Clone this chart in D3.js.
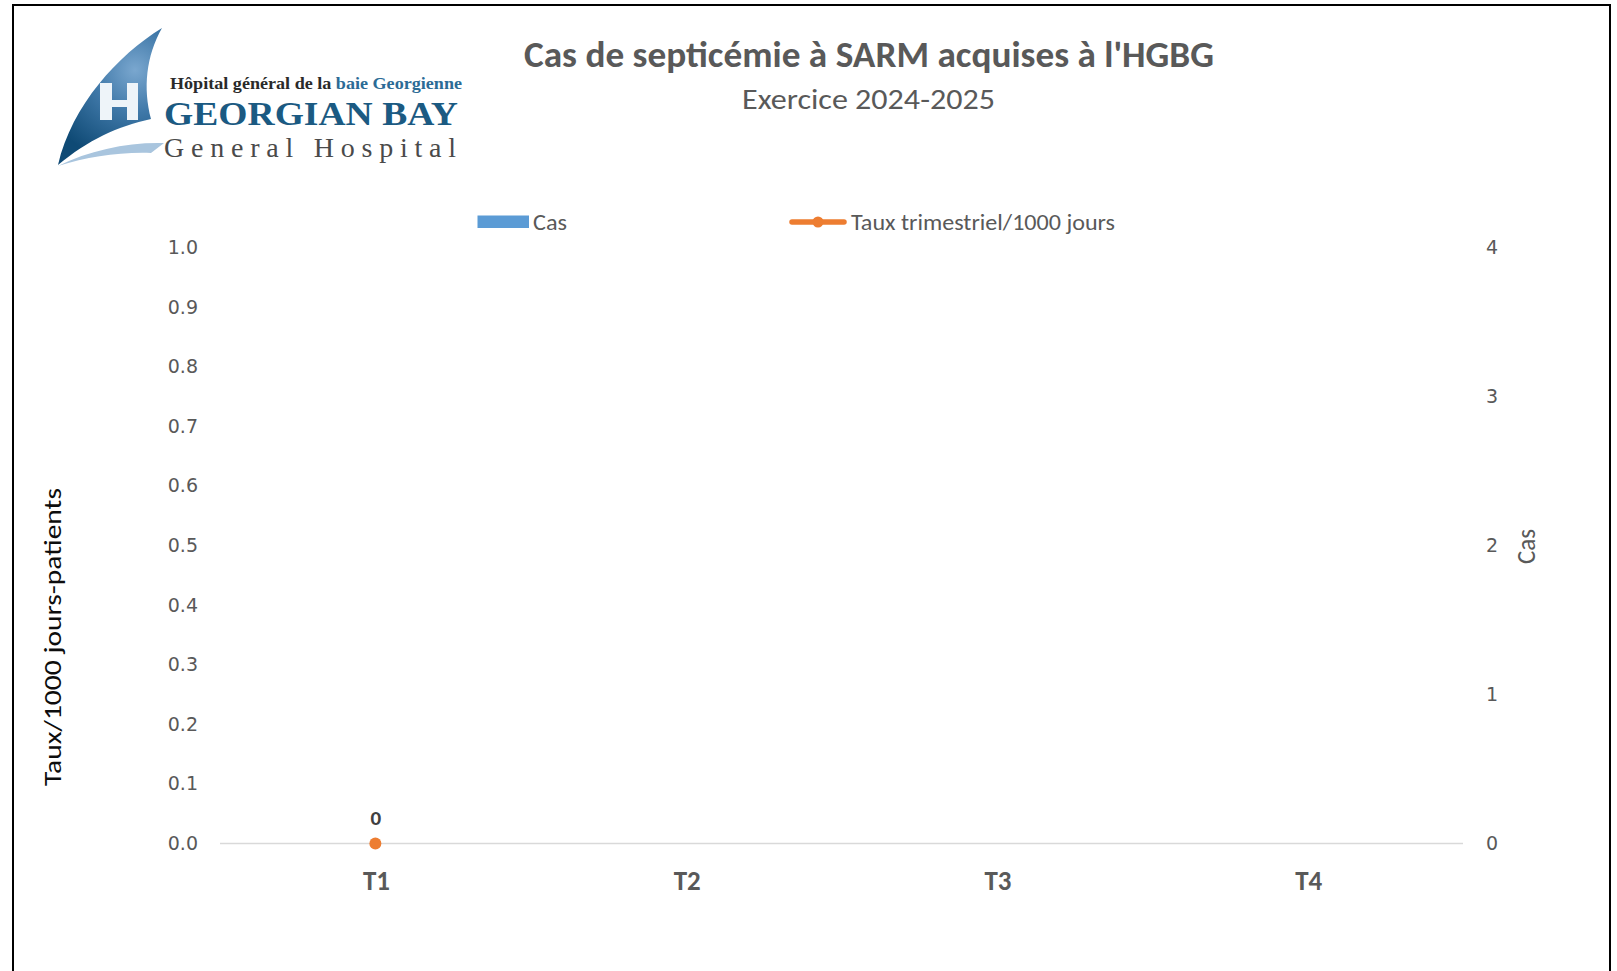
<!DOCTYPE html>
<html>
<head>
<meta charset="utf-8">
<script src="https://cdn.jsdelivr.net/npm/d3@7"></script>
<style>
  html, body { margin: 0; padding: 0; background: #fff; }
  svg { display: block; }
</style>
</head>
<body>
<svg id="chart" width="1617" height="971"></svg>
<script>
// ---- Data ----
const categories = ["T1", "T2", "T3", "T4"];
const casValues = [0, null, null, null];            // bars (right axis)
const tauxValues = [0, null, null, null];           // line (left axis)
const leftTicks = [0, 0.1, 0.2, 0.3, 0.4, 0.5, 0.6, 0.7, 0.8, 0.9, 1.0];
const rightTicks = [0, 1, 2, 3, 4];
const titleText = "Cas de septicémie à SARM acquises à l'HGBG";
const subtitleText = "Exercice 2024-2025";
const legendNames = ["Cas", "Taux trimestriel/1000 jours"];
const leftAxisTitle = "Taux/1000 jours-patients";
const rightAxisTitle = "Cas";

// ---- Setup ----
const svg = d3.select("#chart");
const W = 1617, H = 971;
const plot = { left: 220, right: 1463, top: 247.5, bottom: 843.5 };
const GRAY = "#595959";
const BODY = "'Carlito', 'Open Sans', sans-serif";
const TICKF = "'DejaVu Sans', sans-serif";
const ORANGE = "#ed7d31", BLUE = "#5b9bd5";

svg.append("rect").attr("width", W).attr("height", H).attr("fill", "#fff");
// outer frame
svg.append("rect").attr("x", 13).attr("y", 5).attr("width", 1597).attr("height", 1000)
  .attr("fill", "none").attr("stroke", "#000").attr("stroke-width", 2);

// ---- Logo ----
const defs = svg.append("defs");
const rg = defs.append("radialGradient").attr("id", "sailGrad")
  .attr("gradientUnits", "userSpaceOnUse").attr("cx", 135).attr("cy", 70).attr("r", 95);
rg.append("stop").attr("offset", "0").attr("stop-color", "#7aa7cf");
rg.append("stop").attr("offset", "0.45").attr("stop-color", "#3f78a8");
rg.append("stop").attr("offset", "1").attr("stop-color", "#0f4a75");
const logo = svg.append("g");
logo.append("path")
  .attr("d", "M162,28 C118,55 72,105 58,165 C88,140 118,126 151,119 C143,88 146,56 162,28 Z")
  .attr("fill", "url(#sailGrad)");
// H
logo.append("path")
  .attr("d", "M100,83 L112,83 L112,100 L127,100 L127,83 L138,83 L138,120 L127,120 L127,107 L112,107 L112,120 L100,120 Z")
  .attr("fill", "#eef4f9");
// swoosh
logo.append("path")
  .attr("d", "M58,166 C90,150 128,142 164,143 L151,153 C118,152 88,157 58,166 Z")
  .attr("fill", "#a9c5de");
const t1 = logo.append("text").attr("x", 170).attr("y", 89)
  .attr("font-family", "'Liberation Serif', serif").attr("font-size", 16).attr("font-weight", "bold")
  .attr("textLength", 292).attr("lengthAdjust", "spacingAndGlyphs");
t1.append("tspan").attr("fill", "#2a2a2a").text("Hôpital général de la ");
t1.append("tspan").attr("fill", "#2b6b96").text("baie Georgienne");
logo.append("text").attr("x", 164).attr("y", 125)
  .attr("font-family", "'Liberation Serif', serif").attr("font-size", 34).attr("font-weight", "bold")
  .attr("fill", "#1b5a82").attr("textLength", 294).attr("lengthAdjust", "spacingAndGlyphs")
  .text("GEORGIAN BAY");
logo.append("text").attr("x", 164).attr("y", 157)
  .attr("font-family", "'Liberation Serif', serif").attr("font-size", 28)
  .attr("fill", "#4a4a4a").attr("textLength", 292).attr("lengthAdjust", "spacing")
  .text("General Hospital");

// ---- Titles ----
svg.append("text").attr("x", 869).attr("y", 67).attr("text-anchor", "middle")
  .attr("font-family", BODY).attr("font-weight", "bold").attr("font-size", 36)
  .attr("fill", GRAY).attr("textLength", 690).attr("lengthAdjust", "spacingAndGlyphs")
  .text(titleText);
svg.append("text").attr("x", 868.5).attr("y", 109).attr("text-anchor", "middle")
  .attr("font-family", BODY).attr("font-size", 28)
  .attr("fill", GRAY).attr("textLength", 253).attr("lengthAdjust", "spacingAndGlyphs")
  .text(subtitleText);

// ---- Scales ----
const x = d3.scaleBand().domain(categories).range([plot.left, plot.right]).paddingInner(0).paddingOuter(0);
const yL = d3.scaleLinear().domain([0, 1]).range([plot.bottom, plot.top]);
const yR = d3.scaleLinear().domain([0, 4]).range([plot.bottom, plot.top]);

// baseline gridline
svg.append("line").attr("x1", plot.left).attr("x2", plot.right)
  .attr("y1", yL(0)).attr("y2", yL(0)).attr("stroke", "#d9d9d9").attr("stroke-width", 1.5);

// ---- Axes ----
const gL = svg.append("g").attr("transform", `translate(${plot.left},0)`)
  .call(d3.axisLeft(yL).tickValues(leftTicks).tickSize(0).tickPadding(22).tickFormat(d3.format(".1f")));
gL.select(".domain").remove();
gL.selectAll("text").attr("font-family", TICKF).attr("font-size", 19).attr("fill", GRAY);

const gR = svg.append("g").attr("transform", `translate(${plot.right},0)`)
  .call(d3.axisRight(yR).tickValues(rightTicks).tickSize(0).tickPadding(23).tickFormat(d3.format("d")));
gR.select(".domain").remove();
gR.selectAll("text").attr("font-family", TICKF).attr("font-size", 19).attr("fill", GRAY);

const gB = svg.append("g").attr("transform", `translate(0,${plot.bottom})`)
  .call(d3.axisBottom(x).tickSize(0));
gB.select(".domain").remove();
gB.selectAll("text").attr("y", 46.5).attr("dy", 0).attr("x", 1)
  .attr("font-family", BODY).attr("font-weight", "bold").attr("font-size", 29).attr("fill", GRAY)
  .attr("textLength", 27).attr("lengthAdjust", "spacingAndGlyphs");

// axis titles
svg.append("text").attr("transform", `translate(61,637) rotate(-90)`).attr("text-anchor", "middle")
  .attr("font-family", BODY).attr("font-size", 25).attr("fill", "#0d0d0d")
  .attr("textLength", 298).attr("lengthAdjust", "spacingAndGlyphs").text(leftAxisTitle);
svg.append("text").attr("transform", `translate(1535,546.5) rotate(-90)`).attr("text-anchor", "middle")
  .attr("font-family", BODY).attr("font-size", 26).attr("fill", GRAY)
  .attr("textLength", 35).attr("lengthAdjust", "spacingAndGlyphs").text(rightAxisTitle);

// ---- Bars (Cas) ----
const barW = x.bandwidth() * 0.6;
svg.append("g").selectAll("rect")
  .data(categories.map((c, i) => ({ c, v: casValues[i] })).filter(d => d.v != null))
  .join("rect")
  .attr("x", d => x(d.c) + (x.bandwidth() - barW) / 2)
  .attr("width", barW)
  .attr("y", d => yR(d.v))
  .attr("height", d => yR(0) - yR(d.v))
  .attr("fill", BLUE);

// ---- Line (Taux) ----
const pts = categories.map((c, i) => ({ c, v: tauxValues[i] }));
svg.append("path").datum(pts)
  .attr("fill", "none").attr("stroke", ORANGE).attr("stroke-width", 5).attr("stroke-linecap", "round")
  .attr("d", d3.line().defined(d => d.v != null).x(d => x(d.c) + x.bandwidth() / 2).y(d => yL(d.v)));
const valid = pts.filter(d => d.v != null);
svg.append("g").selectAll("circle").data(valid).join("circle")
  .attr("cx", d => x(d.c) + x.bandwidth() / 2).attr("cy", d => yL(d.v)).attr("r", 6)
  .attr("fill", ORANGE);
svg.append("g").selectAll("text").data(valid).join("text")
  .attr("x", d => x(d.c) + x.bandwidth() / 2 + 0.5).attr("y", d => yL(d.v) - 18.5)
  .attr("text-anchor", "middle").attr("font-family", BODY).attr("font-weight", "bold")
  .attr("font-size", 21).attr("fill", "#404040").text(d => d3.format("d")(d.v));

// ---- Legend ----
const lg = svg.append("g");
lg.append("rect").attr("x", 477.5).attr("y", 215.5).attr("width", 51.5).attr("height", 12.5).attr("fill", BLUE);
lg.append("text").attr("x", 533).attr("y", 229.5).attr("font-family", BODY).attr("font-size", 22.5)
  .attr("fill", GRAY).attr("textLength", 34).attr("lengthAdjust", "spacingAndGlyphs").text(legendNames[0]);
lg.append("line").attr("x1", 792).attr("x2", 844).attr("y1", 222).attr("y2", 222)
  .attr("stroke", ORANGE).attr("stroke-width", 5.5).attr("stroke-linecap", "round");
lg.append("circle").attr("cx", 818).attr("cy", 222).attr("r", 5.5).attr("fill", ORANGE);
lg.append("text").attr("x", 851).attr("y", 229.5).attr("font-family", BODY).attr("font-size", 22.5)
  .attr("fill", GRAY).attr("textLength", 264).attr("lengthAdjust", "spacingAndGlyphs").text(legendNames[1]);
</script>
</body>
</html>
